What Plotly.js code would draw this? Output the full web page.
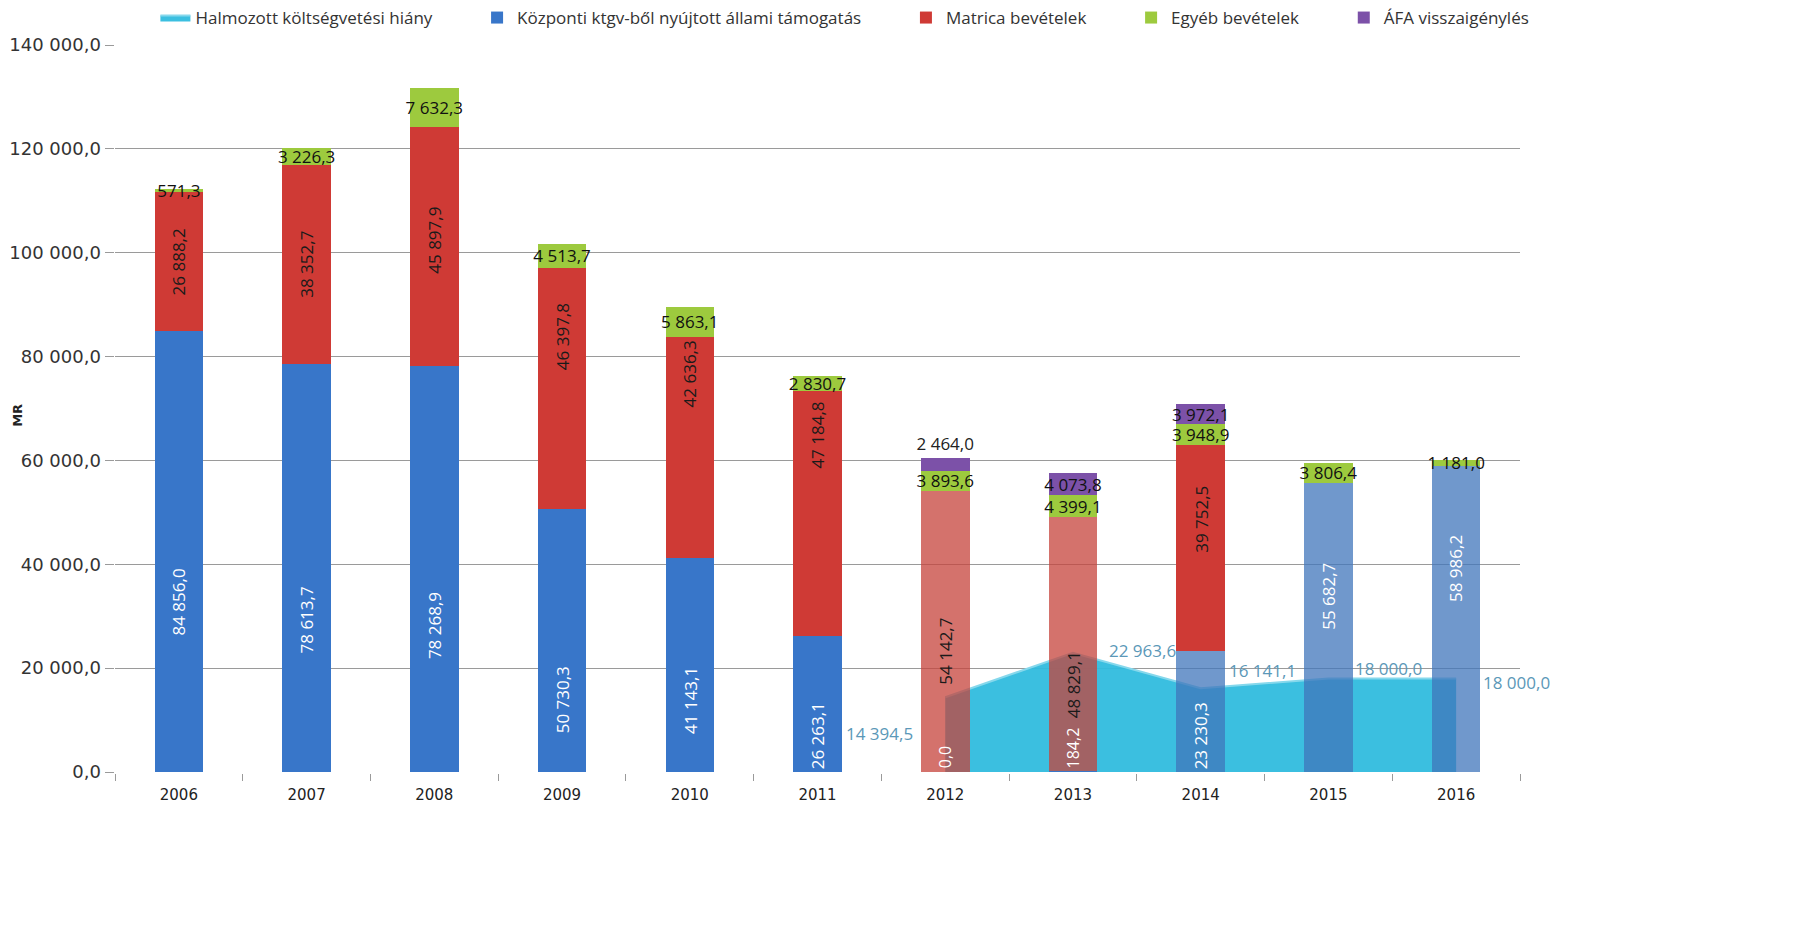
<!DOCTYPE html>
<html>
<head>
<meta charset="utf-8">
<script src="https://cdn.plot.ly/plotly-3.0.1.min.js"></script>
<style>html,body{margin:0;padding:0;background:#fff;}#chart{width:1817px;height:929px;}</style>
</head>
<body>
<div id="chart"></div>
<script>
// ---- data ----
var years = ['2006','2007','2008','2009','2010','2011','2012','2013','2014','2015','2016'];
var kozponti = [84856.0, 78613.7, 78268.9, 50730.3, 41143.1, 26263.1, 0.0, 184.2, 23230.3, 55682.7, 58986.2];
var matrica  = [26888.2, 38352.7, 45897.9, 46397.8, 42636.3, 47184.8, 54142.7, 48829.1, 39752.5, null, null];
var egyeb    = [571.3, 3226.3, 7632.3, 4513.7, 5863.1, 2830.7, 3893.6, 4399.1, 3948.9, 3806.4, 1181.0];
var afa      = [null, null, null, null, null, null, 2464.0, 4073.8, 3972.1, null, null];
var hianyYears = ['2012','2013','2014','2015','2016'];
var hiany      = [14394.5, 22963.6, 16141.1, 18000.0, 18000.0];

var seriesNames = ['Halmozott költségvetési hiány', 'Központi ktgv-ből nyújtott állami támogatás',
                   'Matrica bevételek', 'Egyéb bevételek', 'ÁFA visszaigénylés'];
var yTitle = 'MR';

// ---- styles ----
var FONT = 'Open Sans, Lato, sans-serif';
var fadedRedYears = ['2012','2013'];
var fadedBlueYears = ['2014','2015','2016'];
var blueColors = years.map(function(y){ return fadedBlueYears.indexOf(y) >= 0 ? 'rgba(64,118,187,0.75)' : '#3876c9'; });
var redColors  = years.map(function(y){ return fadedRedYears.indexOf(y) >= 0 ? 'rgba(198,67,59,0.75)' : '#cf3a35'; });
var BW = 0.38;
var LEGEND_PAD = '\u00a0\u00a0\u00a0\u00a0\u00a0\u00a0\u00a0\u00a0\u00a0';
// vertical pixel offsets of the rotated segment labels (positive = moved up), as placed in the original
var blueLabelShift = [-50, -52, -57, -60, -35, -32, 0, 0, -24, 31, 50];
var redLabelShift  = [0, 0, 6, 51, 74, 78, -20, -40, 29, 0, 0];
// label placement of the area values (pixel offsets from each point)
var hianyLabelStyle = [
  {xanchor: 'right', xshift: -30, yshift: -36},
  {xanchor: 'left',  xshift: 34,  yshift: 2},
  {xanchor: 'left',  xshift: 26,  yshift: 18},
  {xanchor: 'left',  xshift: 25,  yshift: 10},
  {xanchor: 'left',  xshift: 25,  yshift: -4}
];

function fmtHU(v){
  var s = v.toFixed(1).split('.');
  var intPart = s[0].replace(/\B(?=(\d{3})+(?!\d))/g, ' ');
  return intPart + ',' + s[1];
}
function tmpl(arr){
  return arr.map(function(v){ return v === null ? '' : '%{y:,.1f}'; });
}

var traces = [
  {
    type: 'scatter', name: seriesNames[0] + LEGEND_PAD, x: hianyYears, y: hiany,
    mode: 'lines', fill: 'tozeroy', fillcolor: 'rgba(48,188,222,0.95)',
    line: {color: '#86d8ec', width: 2},
    zorder: -1
  },
  {
    type: 'bar', name: seriesNames[1] + LEGEND_PAD, x: years, y: kozponti, width: BW,
    marker: {color: blueColors, line: {width: 0}}, textinfo: 'none'
  },
  {
    type: 'bar', name: seriesNames[2] + LEGEND_PAD, x: years, y: matrica, width: BW,
    marker: {color: redColors, line: {width: 0}}, textinfo: 'none'
  },
  {
    type: 'bar', name: seriesNames[3] + LEGEND_PAD, x: years, y: egyeb, width: BW,
    marker: {color: '#9dca3e', line: {width: 0}},
    texttemplate: tmpl(egyeb), textposition: 'inside', textangle: 0,
    insidetextanchor: 'middle', constraintext: 'none',
    insidetextfont: {family: FONT, size: 17, color: '#111'}
  },
  {
    type: 'bar', name: seriesNames[4], x: years, y: afa, width: BW,
    marker: {color: '#7c51a8', line: {width: 0}},
    texttemplate: tmpl(afa),
    textposition: years.map(function(y){ return y === '2012' ? 'outside' : 'inside'; }),
    textangle: 0, insidetextanchor: 'middle', constraintext: 'none',
    insidetextfont: {family: FONT, size: 17, color: '#111'},
    outsidetextfont: {family: FONT, size: 17, color: '#222'},
    cliponaxis: false
  }
];

var annotations = [];
// rotated labels of the blue and red segments, at each segment's middle
kozponti.forEach(function(v, i){
  if (v === null) return;
  if (v < 2000) {
    annotations.push({x: i, y: 0, xref: 'x', yref: 'y', text: fmtHU(v), showarrow: false,
      textangle: -90, yanchor: 'bottom', yshift: 2,
      font: {family: FONT, size: 16, color: '#ffffff'}});
  } else {
    annotations.push({x: i, y: v / 2, xref: 'x', yref: 'y', text: fmtHU(v), showarrow: false,
      textangle: -90, yanchor: 'middle', yshift: blueLabelShift[i],
      font: {family: FONT, size: 17, color: '#ffffff'}});
  }
});
matrica.forEach(function(v, i){
  if (v === null) return;
  var base = kozponti[i] || 0;
  annotations.push({x: i, y: base + v / 2, xref: 'x', yref: 'y', text: fmtHU(v), showarrow: false,
    textangle: -90, yanchor: 'middle', yshift: redLabelShift[i],
    font: {family: FONT, size: 17, color: '#1a1a1a'}});
});
// area value labels
hiany.forEach(function(v, i){
  var st = hianyLabelStyle[i];
  annotations.push({x: years.indexOf(hianyYears[i]), y: v, xref: 'x', yref: 'y', text: fmtHU(v),
    showarrow: false, xanchor: st.xanchor, yanchor: 'middle', xshift: st.xshift, yshift: st.yshift,
    font: {family: FONT, size: 17, color: '#5b98b8'}});
});
// y axis title placed like the original (close to the tick labels)
annotations.push({xref: 'paper', yref: 'paper', x: -0.069, y: 0.49, text: '<b>' + yTitle + '</b>',
  textangle: -90, showarrow: false, xanchor: 'center', yanchor: 'middle',
  font: {family: 'DejaVu Sans', size: 13, color: '#222'}});

var layout = {
  width: 1817, height: 929,
  margin: {l: 115, r: 297, t: 45, b: 157, autoexpand: false},
  paper_bgcolor: '#ffffff', plot_bgcolor: '#ffffff',
  separators: ', ',
  barmode: 'stack',
  showlegend: true,
  legend: {orientation: 'h', xref: 'container', yref: 'container', x: 0.465, xanchor: 'center',
           y: 1.0, yanchor: 'top',
           traceorder: 'normal', font: {family: FONT, size: 17, color: '#333'}},
  xaxis: {type: 'category', categoryorder: 'array', categoryarray: years, range: [-0.5, 10.5],
          showline: true, linecolor: '#9a9a9a', linewidth: 1.5, ticks: 'outside', tickson: 'boundaries',
          ticklen: 7, tickcolor: '#9a9a9a', showgrid: false, zeroline: false, ticklabelstandoff: 8,
          tickfont: {family: 'DejaVu Sans', size: 15, color: '#222'}},
  yaxis: {range: [0, 140000], dtick: 20000, tickformat: ',.1f',
          showline: true, linecolor: '#b0b0b0', linewidth: 1.5, ticks: 'outside', ticklen: 9, tickcolor: '#9a9a9a',
          gridcolor: '#9a9a9a', gridwidth: 1, zeroline: false,
          tickfont: {family: 'DejaVu Sans', size: 18, color: '#333'}},
  annotations: annotations
};

Plotly.newPlot('chart', traces, layout, {displayModeBar: false, staticPlot: true});
</script>
</body>
</html>
